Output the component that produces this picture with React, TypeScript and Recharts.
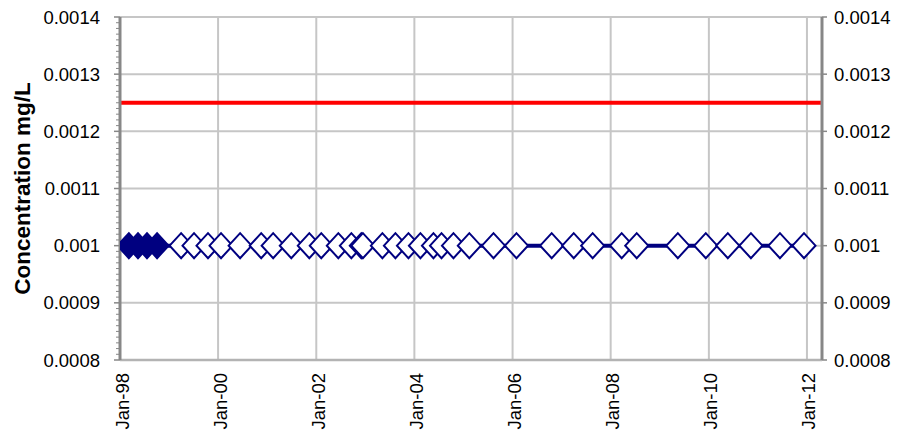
import React from 'react';
import { ComposedChart, Line, XAxis, YAxis, CartesianGrid, ReferenceLine } from 'recharts';

// sampling dates
const sampleDates = [
  '1998-03-08', '1998-05-15', '1998-07-21', '1998-10-04',
  '1999-04-01', '1999-07-06', '1999-10-18', '2000-01-23', '2000-06-13', '2000-11-17',
  '2001-02-14', '2001-06-29', '2001-11-10', '2002-02-07', '2002-06-14', '2002-09-19',
  '2002-12-02', '2002-12-14', '2003-05-08', '2003-08-13', '2003-11-18', '2004-02-15',
  '2004-05-22', '2004-07-21', '2004-10-18', '2005-02-13', '2005-08-12', '2006-01-30',
  '2006-10-19', '2007-04-01', '2007-08-20', '2008-03-23', '2008-07-13', '2009-05-15',
  '2009-12-09', '2010-05-22', '2010-11-10', '2011-06-14', '2011-12-10',
];

const concentrations = [
  0.001, 0.001, 0.001, 0.001,
  0.001, 0.001, 0.001, 0.001, 0.001, 0.001,
  0.001, 0.001, 0.001, 0.001, 0.001, 0.001,
  0.001, 0.001, 0.001, 0.001, 0.001, 0.001,
  0.001, 0.001, 0.001, 0.001, 0.001, 0.001,
  0.001, 0.001, 0.001, 0.001, 0.001, 0.001,
  0.001, 0.001, 0.001, 0.001, 0.001,
];

// filled marker = detected, hollow = below detection limit
const detected = [
  true, true, true, true,
  false, false, false, false, false, false,
  false, false, false, false, false, false,
  false, false, false, false, false, false,
  false, false, false, false, false, false,
  false, false, false, false, false, false,
  false, false, false, false, false,
];

const guideline = 0.00125;

const xStart = '1998-01-01';
const xEnd = '2012-04-22';
const xTickDates = ['1998-01-01', '2000-01-01', '2002-01-01', '2004-01-01', '2006-01-01', '2008-01-01', '2010-01-01', '2012-01-01'];
const xTickLabels = ['Jan-98', 'Jan-00', 'Jan-02', 'Jan-04', 'Jan-06', 'Jan-08', 'Jan-10', 'Jan-12'];

const yTicks = [0.0008, 0.0009, 0.001, 0.0011, 0.0012, 0.0013, 0.0014];
const yTickLabels = ['0.0008', '0.0009', '0.001', '0.0011', '0.0012', '0.0013', '0.0014'];

const toTime = (d: string) => new Date(d + 'T00:00:00Z').getTime();
const xTickTimes = xTickDates.map(toTime);

// minor tick marks on the left axis, ten per major step
const minorTicks = Array.from({ length: 61 }, (_, i) => Number((0.0008 + i * 0.00001).toFixed(5)));

const rows = sampleDates.map((d, i) => ({
  t: toTime(d),
  value: concentrations[i],
  detected: detected[i],
}));

const NAVY = '#000080';
const FONT_SIZE = 18.5;

const renderDiamond = (props: any) => {
  const { cx, cy, index, payload } = props;
  if (cx == null || cy == null) return <g key={index} />;
  const w = 11.5;
  const h = 12.5;
  const pts = `${cx - w},${cy} ${cx},${cy - h} ${cx + w},${cy} ${cx},${cy + h}`;
  return (
    <polygon
      key={index}
      points={pts}
      fill={payload.detected ? NAVY : '#ffffff'}
      stroke={NAVY}
      strokeWidth={2}
    />
  );
};

const LeftTick = (props: any) => {
  const { x, y, payload } = props;
  const idx = yTicks.findIndex((t) => Math.abs(t - payload.value) < 1e-9);
  const major = idx >= 0;
  return (
    <g>
      <line x1={x - (major ? 6 : 4)} x2={x} y1={y} y2={y} stroke="#878787" strokeWidth={major ? 1.5 : 1} />
      {major && (
        <text x={x - 20} y={y} textAnchor="end" dominantBaseline="central" fontSize={FONT_SIZE} fill="#000">
          {yTickLabels[idx]}
        </text>
      )}
    </g>
  );
};

const XTick = (props: any) => {
  const { x, y, payload } = props;
  const idx = xTickTimes.indexOf(payload.value);
  const tx = x + 2;
  const ty = y + 13;
  return (
    <text
      x={tx}
      y={ty}
      transform={`rotate(-90, ${tx}, ${ty})`}
      textAnchor="end"
      dominantBaseline="central"
      fontSize={FONT_SIZE}
      fill="#000"
    >
      {xTickLabels[idx]}
    </text>
  );
};

export default function App() {
  return (
    <div style={{ width: 903, height: 430, fontFamily: '"Liberation Sans", Arial, sans-serif', background: '#fff' }}>
      <style>{'body{margin:0}'}</style>
      <ComposedChart width={903} height={430} data={rows} margin={{ top: 17, right: 0, bottom: 0, left: 0 }}>
        <CartesianGrid yAxisId="right" stroke="#c6c6c6" strokeWidth={2} />
        <XAxis
          dataKey="t"
          type="number"
          scale="time"
          domain={[toTime(xStart), toTime(xEnd)]}
          ticks={xTickTimes}
          interval={0}
          height={70}
          tickSize={0}
          tickMargin={0}
          tickLine={false}
          tick={<XTick />}
          axisLine={{ stroke: '#b3b3b3', strokeWidth: 2.5 }}
          allowDataOverflow
        />
        <YAxis
          yAxisId="left"
          orientation="left"
          width={120}
          domain={[0.0008, 0.0014]}
          ticks={minorTicks}
          interval={0}
          tickSize={0}
          tickMargin={0}
          tickLine={false}
          tick={<LeftTick />}
          axisLine={{ stroke: '#878787', strokeWidth: 3 }}
          allowDataOverflow
          label={{
            value: 'Concentration mg/L',
            angle: -90,
            position: 'insideLeft',
            offset: 22,
            style: { textAnchor: 'middle', fontWeight: 'bold', fontSize: 22.5, fill: '#000' },
          }}
        />
        <YAxis
          yAxisId="right"
          orientation="right"
          width={81}
          domain={[0.0008, 0.0014]}
          ticks={yTicks}
          interval={0}
          tickSize={5}
          tickMargin={7}
          tickFormatter={(v: number) => yTickLabels[yTicks.indexOf(v)]}
          tick={{ fontSize: FONT_SIZE, fill: '#000' }}
          tickLine={{ stroke: '#878787', strokeWidth: 1.5 }}
          axisLine={{ stroke: '#878787', strokeWidth: 3 }}
          allowDataOverflow
        />
        <ReferenceLine yAxisId="left" y={guideline} stroke="#ff0000" strokeWidth={4} />
        <Line
          yAxisId="left"
          dataKey="value"
          stroke={NAVY}
          strokeWidth={4}
          dot={renderDiamond}
          activeDot={false}
          isAnimationActive={false}
        />
      </ComposedChart>
    </div>
  );
}
